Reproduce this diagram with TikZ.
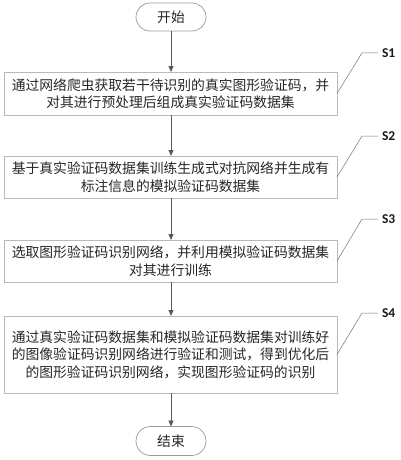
\documentclass[tikz,border=0pt]{standalone}
\usepackage{fontspec}
\setmainfont{Carlito}
\newfontfamily\cjk{Noto Sans CJK SC}
\usetikzlibrary{arrows.meta,shapes.misc}
\begin{document}
\begin{tikzpicture}[x=1pt,y=-1pt,
  every node/.style={inner sep=0pt, outer sep=0pt},
  stepbox/.style={draw=gray!55, line width=0.8pt, minimum width=333pt, align=center, font=\cjk\fontsize{13.8}{17.5}\selectfont, text=black!85},
  term/.style={draw=gray!80, line width=0.7pt, rounded rectangle, minimum width=70pt, minimum height=28pt, font=\cjk\fontsize{13.8}{17}\selectfont, text=black!85},
  flow/.style={draw=black!65, line width=0.9pt, -{Triangle[length=6pt,width=5pt]}},
  leader/.style={draw=black!55, line width=0.5pt},
  steplabel/.style={anchor=west, font=\fontsize{13.5}{14}\selectfont\bfseries, text=black!90}
]
\useasboundingbox (0,0) rectangle (400,460);

\node[term] (start) at (171,17) {开始};
\node[stepbox, minimum height=43pt] (s1) at (170.5,93.5) {通过网络爬虫获取若干待识别的真实图形验证码，并\\对其进行预处理后组成真实验证码数据集};
\node[stepbox, minimum height=42pt] (s2) at (170.5,177) {基于真实验证码数据集训练生成式对抗网络并生成有\\标注信息的模拟验证码数据集};
\node[stepbox, minimum height=42pt] (s3) at (170.5,261) {选取图形验证码识别网络，并利用模拟验证码数据集\\对其进行训练};
\node[stepbox, minimum height=77pt] (s4) at (170.5,354.5) {通过真实验证码数据集和模拟验证码数据集对训练好\\的图像验证码识别网络进行验证和测试，得到优化后\\的图形验证码识别网络，实现图形验证码的识别};
\node[term, minimum height=29pt] (stop) at (171,441) {结束};

\draw[flow] (start.south) -- (start.south |- s1.north);
\draw[flow] (start.south |- s1.south) -- (start.south |- s2.north);
\draw[flow] (start.south |- s2.south) -- (start.south |- s3.north);
\draw[flow] (start.south |- s3.south) -- (start.south |- s4.north);
\draw[flow] (start.south |- s4.south) -- (stop.north);

\node[steplabel] (l1) at (382,53) {S1};
\node[steplabel] (l2) at (382,136) {S2};
\node[steplabel] (l3) at (382,219) {S3};
\node[steplabel] (l4) at (382,313) {S4};
\coordinate (k1) at (362,53);
\coordinate (k2) at (362,136);
\coordinate (k3) at (362,219);
\coordinate (k4) at (362,313);
\draw[leader] (s1.east) -- (k1) -- ([xshift=-4pt]l1.west);
\draw[leader] (s2.east) -- (k2) -- ([xshift=-4pt]l2.west);
\draw[leader] (s3.east) -- (k3) -- ([xshift=-4pt]l3.west);
\draw[leader] (s4.east) -- (k4) -- ([xshift=-4pt]l4.west);
\end{tikzpicture}
\end{document}
